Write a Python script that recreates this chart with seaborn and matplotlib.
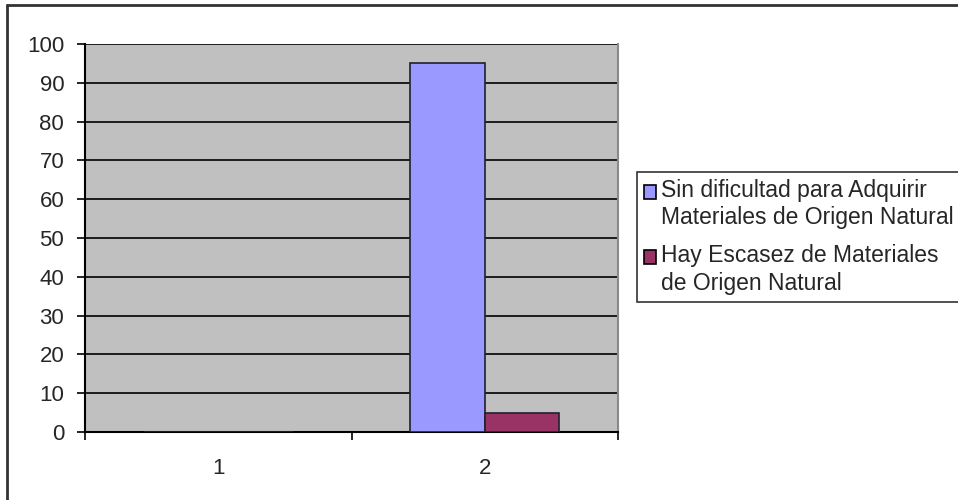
import matplotlib
matplotlib.use("Agg")
import matplotlib.pyplot as plt
from matplotlib.lines import Line2D
import seaborn as sns
import pandas as pd

# Chart data
categories = ["1", "2"]
series_names = ["Sin dificultad para Adquirir\nMateriales de Origen Natural",
                "Hay Escasez de Materiales\nde Origen Natural"]
sin_dificultad = [0, 95]
hay_escasez = [0, 5]
y_ticks = [0, 10, 20, 30, 40, 50, 60, 70, 80, 90, 100]
bar_colors = ["#9999FF", "#993366"]

sns.set_style("white")
plt.rcParams["font.family"] = ["Liberation Sans", "DejaVu Sans"]
plt.rcParams["font.size"] = 15

df = pd.DataFrame({
    "Categoria": categories * 2,
    "Serie": [series_names[0]] * 2 + [series_names[1]] * 2,
    "Valor": sin_dificultad + hay_escasez,
})

fig = plt.figure(figsize=(9.58, 5.0), dpi=100)
ax = fig.add_axes([85 / 958, 68 / 500, 533 / 958, 388 / 500])
ax.set_facecolor("#C0C0C0")

sns.barplot(data=df, x="Categoria", y="Valor", hue="Serie",
            order=categories, hue_order=series_names,
            palette=bar_colors, saturation=1, width=0.56,
            edgecolor="#202030", linewidth=1.2, ax=ax, zorder=3)

# gridlines
ax.set_ylim(0, 100)
ax.set_yticks(y_ticks)
ax.yaxis.grid(True, color="black", linewidth=1.2, zorder=0)
ax.set_axisbelow(True)

# x axis: ticks at category boundaries, labels centred
ax.set_xlim(-0.5, 1.5)
ax.set_xticks([-0.5, 0.5, 1.5])
ax.set_xticklabels(["", "", ""])
ax.set_xticks([0, 1], minor=True)
ax.set_xticklabels(categories, minor=True)
ax.tick_params(axis="x", which="major", direction="out", length=6, width=1.2,
               color="black", bottom=True)
ax.tick_params(axis="x", which="minor", length=0, pad=19, labelsize=16)
ax.tick_params(axis="y", direction="out", length=6, width=1.2, color="black",
               left=True, pad=9, labelsize=16)

ax.set_xlabel("")
ax.set_ylabel("")

for side in ["left", "bottom"]:
    ax.spines[side].set_color("black")
    ax.spines[side].set_linewidth(1.5)
ax.spines["top"].set_visible(False)
ax.spines["right"].set_color("#8a8a8a")
ax.spines["right"].set_linewidth(1.5)

# legend
handles, labels = ax.get_legend_handles_labels()
ax.legend(handles, labels, loc="upper left",
          bbox_to_anchor=(637 / 958, 1 - 172 / 500),
          bbox_transform=fig.transFigure, fontsize=16.5,
          frameon=True, fancybox=False, edgecolor="black",
          handlelength=0.55, handleheight=0.55, handletextpad=0.2,
          labelspacing=0.65, borderpad=0.3, borderaxespad=0)
leg = ax.get_legend()
leg.get_frame().set_linewidth(1.2)
for patch in leg.get_patches():
    patch.set_edgecolor("black")
    # line the square up with the first text line, as Excel does
    patch.set_y(patch.get_y() + 9.5)
for t in leg.get_texts():
    t.set_linespacing(1.25)

# outer chart border (left and top edges visible)
fig.add_artist(Line2D([7 / 958, 7 / 958], [0, 1 - 5 / 500],
                      transform=fig.transFigure, color="#333333", linewidth=2))
fig.add_artist(Line2D([7 / 958, 1], [1 - 5 / 500, 1 - 5 / 500],
                      transform=fig.transFigure, color="#333333", linewidth=2))

fig.savefig("out.png", dpi=100)
